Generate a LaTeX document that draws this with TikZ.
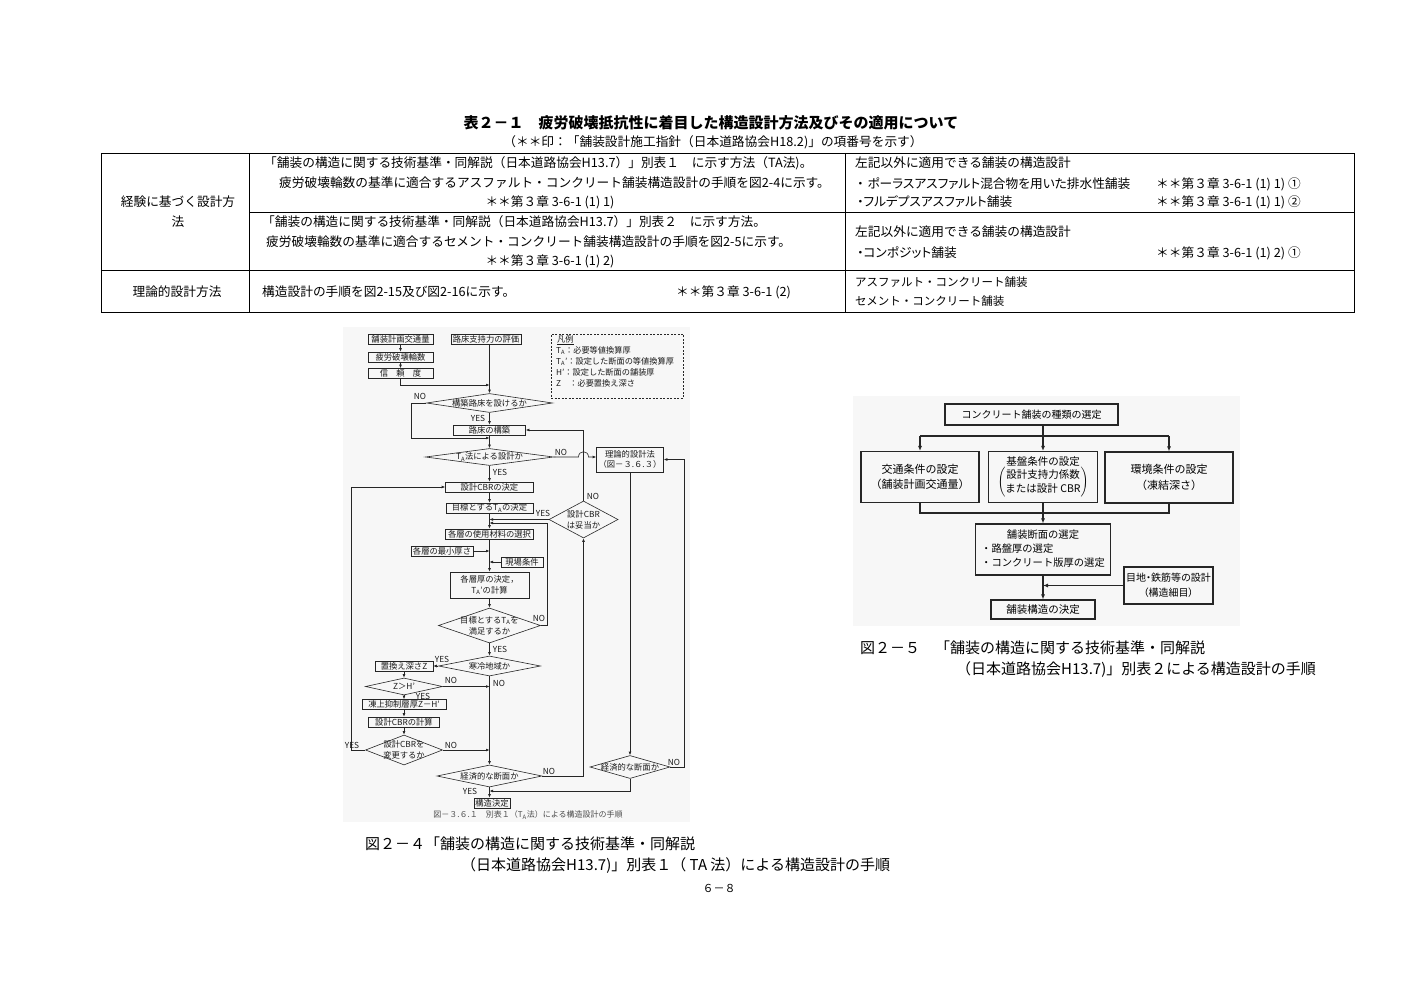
\documentclass[tikz,border=0pt]{standalone}
\usepackage{fontspec}
\setmainfont{Noto Sans CJK JP}
\newfontfamily\paltf{Noto Sans CJK JP}[RawFeature=+palt]
\usetikzlibrary{arrows.meta,shapes.geometric}
\newcommand{\fsz}[2]{\fontsize{#1}{#2}\selectfont}
\begin{document}
\begin{tikzpicture}[x=1pt,y=-1pt,
  every node/.style={inner sep=0pt},
  tt/.style={anchor=west,font=\fsz{12.7}{15}},
  tc/.style={font=\fsz{12.7}{15}},
  fb/.style={draw=black!85, line width=0.6pt, font=\fsz{8.3}{10.5}, align=center, text=black!90},
  fd/.style={diamond, draw=black!85, line width=0.6pt},
  fdt/.style={font=\fsz{8.3}{11}, align=center, text=black!90},
  yn/.style={font=\fsz{8.3}{9}, text=black!90},
  lgt/.style={anchor=west, font=\fsz{8.2}{9}, text=black!90},
  ln/.style={draw=black!85, line width=0.6pt},
  ar/.style={ln, -{Latex[length=3.5pt,width=2.8pt]}},
  rb/.style={draw=black!85, line width=1.1pt, font=\fsz{10.5}{14}, align=center},
  rl/.style={draw=black!85, line width=1.1pt},
  rar/.style={rl, -{Latex[length=5pt,width=4pt]}},
  captxt/.style={anchor=west, font=\fsz{15}{18}},
]
\useasboundingbox (0,0) rectangle (1403,992);
\fill[white] (0,0) rectangle (1403,992);
\fill[black!3] (343,327) rectangle (690,822);
\fill[black!3] (853,396) rectangle (1240,626);

% ---------------- Table ----------------
\node[font=\fsz{15}{18}\bfseries] (title) at (711,123) {表２－１　疲労破壊抵抗性に着目した構造設計方法及びその適用について};
\node[tc] (subt) at (713,142) {（＊＊印：「舗装設計施工指針（日本道路協会H18.2)」の項番号を示す）};
\draw[line width=0.8pt] (101,153) rectangle (1354,312);
\draw[line width=0.7pt] (249,153) -- (249,312);
\draw[line width=0.7pt] (845,153) -- (845,312);
\draw[line width=0.7pt] (249,212) -- (1354,212);
\draw[line width=0.7pt] (101,270) -- (1354,270);

\node[tc, align=center, font=\fsz{12.7}{20}] (c1a) at (178,212) {経験に基づく設計方\\法};
\node[tc] (c1b) at (177,292) {理論的設計方法};

\node[tt] (a1) at (264,163) {「舗装の構造に関する技術基準・同解説（日本道路協会H13.7）」別表１　に示す方法（TA法)。};
\node[tt] (a2) at (279,183) {疲労破壊輪数の基準に適合するアスファルト・コンクリート舗装構造設計の手順を図2-4に示す。};
\node[tc] (a3) at (550,202) {＊＊第３章 3-6-1 (1) 1)};
\node[tt] (b1t) at (262,222) {「舗装の構造に関する技術基準・同解説（日本道路協会H13.7）」別表２　に示す方法。};
\node[tt] (b2t) at (266,242) {疲労破壊輪数の基準に適合するセメント・コンクリート舗装構造設計の手順を図2-5に示す。};
\node[tc] (b3t) at (550,261) {＊＊第３章 3-6-1 (1) 2)};
\node[tt] (c1t) at (262,292) {構造設計の手順を図2-15及び図2-16に示す。};
\node[tt] (c2t) at (676,292) {＊＊第３章 3-6-1 (2)};

\node[tt] (e1) at (855,163) {左記以外に適用できる舗装の構造設計};
\node[tt, font=\fsz{12.7}{15}\paltf] (e2) at (857,184) {・\hspace{4pt}ポーラスアスファルト混合物を用いた排水性舗装};
\node[tt] (e2r) at (1156,184) {＊＊第３章 3-6-1 (1) 1) ①};
\node[tt, font=\fsz{12.7}{15}\paltf] (e3) at (857,202) {・フルデプスアスファルト舗装};
\node[tt] (e3r) at (1156,202) {＊＊第３章 3-6-1 (1) 1) ②};
\node[tt] (f1) at (855,232) {左記以外に適用できる舗装の構造設計};
\node[tt, font=\fsz{12.7}{15}\paltf] (f2) at (857,253) {・コンポジット舗装};
\node[tt] (f2r) at (1156,253) {＊＊第３章 3-6-1 (1) 2) ①};
\node[tt, font=\fsz{11.5}{14}] (g1) at (855,282) {アスファルト・コンクリート舗装};
\node[tt, font=\fsz{11.5}{14}] (g2) at (855,301) {セメント・コンクリート舗装};

% ---------------- Figure 2-4 flowchart ----------------
\node[fb, minimum width=65pt, minimum height=10pt] (n1) at (400.5,339) {舗装計画交通量};
\node[fb, minimum width=65pt, minimum height=10pt] (n2) at (400.5,357) {疲労破壊輪数};
\node[fb, minimum width=65pt, minimum height=10pt] (n3) at (400.5,373.5) {信　頼　度};
\node[fb, minimum width=70pt, minimum height=10pt] (n4) at (486,339) {路床支持力の評価};
\coordinate (m1) at (489.5,385);
\coordinate (m2) at (489.5,438);
\coordinate (m3) at (547,523);
\coordinate (m4) at (489.5,791);

\node[fd, minimum width=126pt, minimum height=19pt, label={[fdt]center:{構築路床を設けるか}}] (d1) at (489.5,403) {};
\node[fb, minimum width=72pt, minimum height=10pt] (n5) at (489.5,430) {路床の構築};
\node[fd, minimum width=128pt, minimum height=17pt, label={[fdt]center:{T\textsubscript{A}法による設計か}}] (d2) at (489.5,457) {};
\node[fb, minimum width=88pt, minimum height=10pt] (n6) at (489.5,487) {設計CBRの決定};
\node[fb, minimum width=87pt, minimum height=10pt] (n7) at (489.5,508) {目標とするT\textsubscript{A}の決定};
\node[fb, minimum width=88pt, minimum height=10pt] (n8) at (489.5,534) {各層の使用材料の選択};
\node[fb, minimum width=62pt, minimum height=10pt] (n9) at (442,551) {各層の最小厚さ};
\node[fb, minimum width=42pt, minimum height=10pt] (n10) at (522,562) {現場条件};
\node[fb, minimum width=79pt, minimum height=26pt] (n11) at (489.5,585) {各層厚の決定，\\T\textsubscript{A}'の計算};
\node[fd, minimum width=102pt, minimum height=35pt, label={[fdt]center:{目標とするT\textsubscript{A}を\\満足するか}}] (d3) at (489.5,625.5) {};
\node[fd, minimum width=102pt, minimum height=20pt, label={[fdt]center:{寒冷地域か}}] (d4) at (489.5,666) {};
\node[fb, minimum width=58pt, minimum height=10pt] (n12) at (404,666) {置換え深さZ};
\node[fd, minimum width=77pt, minimum height=17pt, label={[fdt]center:{Z＞H'}}] (d5) at (404,686.5) {};
\node[fb, minimum width=84pt, minimum height=10pt] (n13) at (404,704.5) {凍上抑制層厚Z－H'};
\node[fb, minimum width=71pt, minimum height=10pt] (n14) at (404,722) {設計CBRの計算};
\node[fd, minimum width=77pt, minimum height=30pt, label={[fdt]center:{設計CBRを\\変更するか}}] (d6) at (404,750) {};
\node[fd, minimum width=105pt, minimum height=22pt, label={[fdt]center:{経済的な断面か}}] (d7) at (489.5,776) {};
\node[fb, minimum width=36pt, minimum height=10pt] (n15) at (492,803) {構造決定};
\node[fb, minimum width=67pt, minimum height=25pt] (n16) at (630,459.5) {理論的設計法\\（図－３.６.３）};
\node[fd, minimum width=69pt, minimum height=37pt, label={[fdt]center:{設計CBR\\は妥当か}}] (d8) at (583.5,519.5) {};
\node[fd, minimum width=80pt, minimum height=23pt, label={[fdt]center:{経済的な断面か}}] (d9) at (630,767) {};

% legend
\node[draw=black!85, line width=0.6pt, dash pattern=on 2pt off 1.5pt, minimum width=132pt, minimum height=64pt] (leg) at (617,366) {};
\node[lgt] (lg0) at (557,340) {\underline{凡例}};
\node[lgt] (lg1) at (556,350.5) {T\textsubscript{A}：必要等値換算厚};
\node[lgt] (lg2) at (556,361.5) {T\textsubscript{A}'：設定した断面の等値換算厚};
\node[lgt] (lg3) at (556,372.5) {H'：設定した断面の舗装厚};
\node[lgt] (lg4) at (556,383.5) {Z　：必要置換え深さ};

% connectors
\draw[ar] (n1) -- (n2);
\draw[ar] (n2) -- (n3);
\draw[ar] (n3.south) |- (m1);
\draw[ar] (n4.south -| d1.north) -- (d1.north);
\draw[ar] (d1.west) -- ++(-15,0) |- (m2);
\draw[ar] (d1.south) -- (n5.north);
\draw[ar] (n5.south) -- (d2.north);
\draw[ar] (d2.east) -- (578.5,457) .. controls (578.5,450) and (588.5,450) .. (588.5,457) -- (d2.east -| n16.west);
\draw[ar] (d2.south) -- (n6.north);
\draw[ar] (n6) -- (n7);
\draw[ar] (n7) -- (n8);
\draw[ar] (d8.west) -- (d8.west -| n8.south);
\draw[ar] (d8.north) |- (n5.east);
\draw[ar] (d3.east) -| (m3) -- (m3 -| n8.south);
\draw[ar] (n8) -- (n11);
\draw[ar] (n9.east) -- (n9.east -| n8.south);
\draw[ar] (n10.west) -- (n10.west -| n8.south);
\draw[ar] (n11) -- (d3);
\draw[ar] (d3) -- (d4);
\draw[ar] (d4.west) -- (n12.east);
\draw[ar] (n12) -- (d5);
\draw[ar] (d5.east) -- (d5.east -| d4.south);
\draw[ar] (d5) -- (n13);
\draw[ar] (n13) -- (n14);
\draw[ar] (n14) -- (d6);
\draw[ar] (d6.west) -- ++(-14,0) |- (n6.west);
\draw[ar] (d6.east) -- (d6.east -| d4.south);
\draw[ar] (d4) -- (d7);
\draw[ar] (d7.south) -- (d7.south |- n15.north);
\draw[ar] (d7.east) -| (d8.south);
\draw[ar] (n16) -- (d9);
\draw[ar] (d9.east) -- ++(14,0) |- (n16.east);
\draw[ar] (d9.south) |- (m4);

% yes / no labels
\node[yn] (y1) at (420,396) {NO};
\node[yn] (y2) at (478,418) {YES};
\node[yn] (y3) at (561,452) {NO};
\node[yn] (y4) at (500,472) {YES};
\node[yn] (y5) at (593,496) {NO};
\node[yn] (y6) at (543,513) {YES};
\node[yn] (y7) at (539,618) {NO};
\node[yn] (y8) at (500,649) {YES};
\node[yn] (y9) at (442,659) {YES};
\node[yn] (y10) at (499,683) {NO};
\node[yn] (y11) at (451,680) {NO};
\node[yn] (y12) at (423,696) {YES};
\node[yn] (y13) at (352,745) {YES};
\node[yn] (y14) at (451,745) {NO};
\node[yn] (y15) at (549,771) {NO};
\node[yn] (y16) at (470,791) {YES};
\node[yn] (y17) at (674,762) {NO};

\node[font=\fsz{8}{9}, text=black!70] (smallcap) at (528,815) {図－３.６.１　別表１（T\textsubscript{A}法）による構造設計の手順};

% ---------------- Figure 2-5 flowchart ----------------
\node[rb, minimum width=173pt, minimum height=21pt, font=\fsz{10}{14}] (r1) at (1031.5,414.5) {コンクリート舗装の種類の選定};
\node[rb, minimum width=118pt, minimum height=51pt, font=\fsz{11}{15.5}] (r2) at (920,477) {交通条件の設定\\（舗装計画交通量）};
\node[rb, minimum width=109pt, minimum height=51pt] (r3) at (1043,477) {基盤条件の設定\\$\left(\begin{tabular}{@{}c@{}}設計支持力係数\\または設計 CBR\end{tabular}\right)$};
\node[rb, minimum width=128pt, minimum height=51pt, font=\fsz{11}{15.5}] (r4) at (1169,477.5) {環境条件の設定\\（凍結深さ）};
\node[rb, minimum width=135pt, minimum height=51pt, font=\fsz{10.3}{14}] (r5) at (1043,549.5) {\begin{tabular}{@{}l@{}}\multicolumn{1}{@{}c@{}}{舗装断面の選定}\\・路盤厚の選定\\・コンクリート版厚の選定\end{tabular}};
\node[rb, minimum width=89pt, minimum height=37pt, font=\fsz{10}{15}\paltf] (r6) at (1168.5,585.5) {目地・鉄筋等の設計\\（構造細目）};
\node[rb, minimum width=104pt, minimum height=19pt] (r7) at (1043,609.5) {舗装構造の決定};
\coordinate (split) at (1043,436);
\coordinate (merge) at (1043,513);
\draw[rar] (r1.south -| r3.north) -- (r3.north);
\draw[rl] (r2.north |- split) -- (r4.north |- split);
\draw[rar] (r2.north |- split) -- (r2.north);
\draw[rar] (r4.north |- split) -- (r4.north);
\draw[rl] (r2.south) |- (merge) -| (r4.south);
\draw[rar] (r3.south) -- (r5.north);
\draw[rar] (r5.south) -- (r7.north);
\draw[rar] (r6.west) -- (r6.west -| r5.south);

% ---------------- Captions ----------------
\node[captxt] (cap4a) at (365,844) {図２－４「舗装の構造に関する技術基準・同解説};
\node[captxt] (cap4b) at (461,866) {（日本道路協会H13.7)」別表１（ TA 法）による構造設計の手順};
\node[font=\fsz{11}{13}] (pg) at (719,888) {６－８};
\node[captxt] (cap5a) at (860,648) {図２－５　「舗装の構造に関する技術基準・同解説};
\node[captxt] (cap5b) at (956,670) {（日本道路協会H13.7)」別表２による構造設計の手順};
\end{tikzpicture}
\end{document}
